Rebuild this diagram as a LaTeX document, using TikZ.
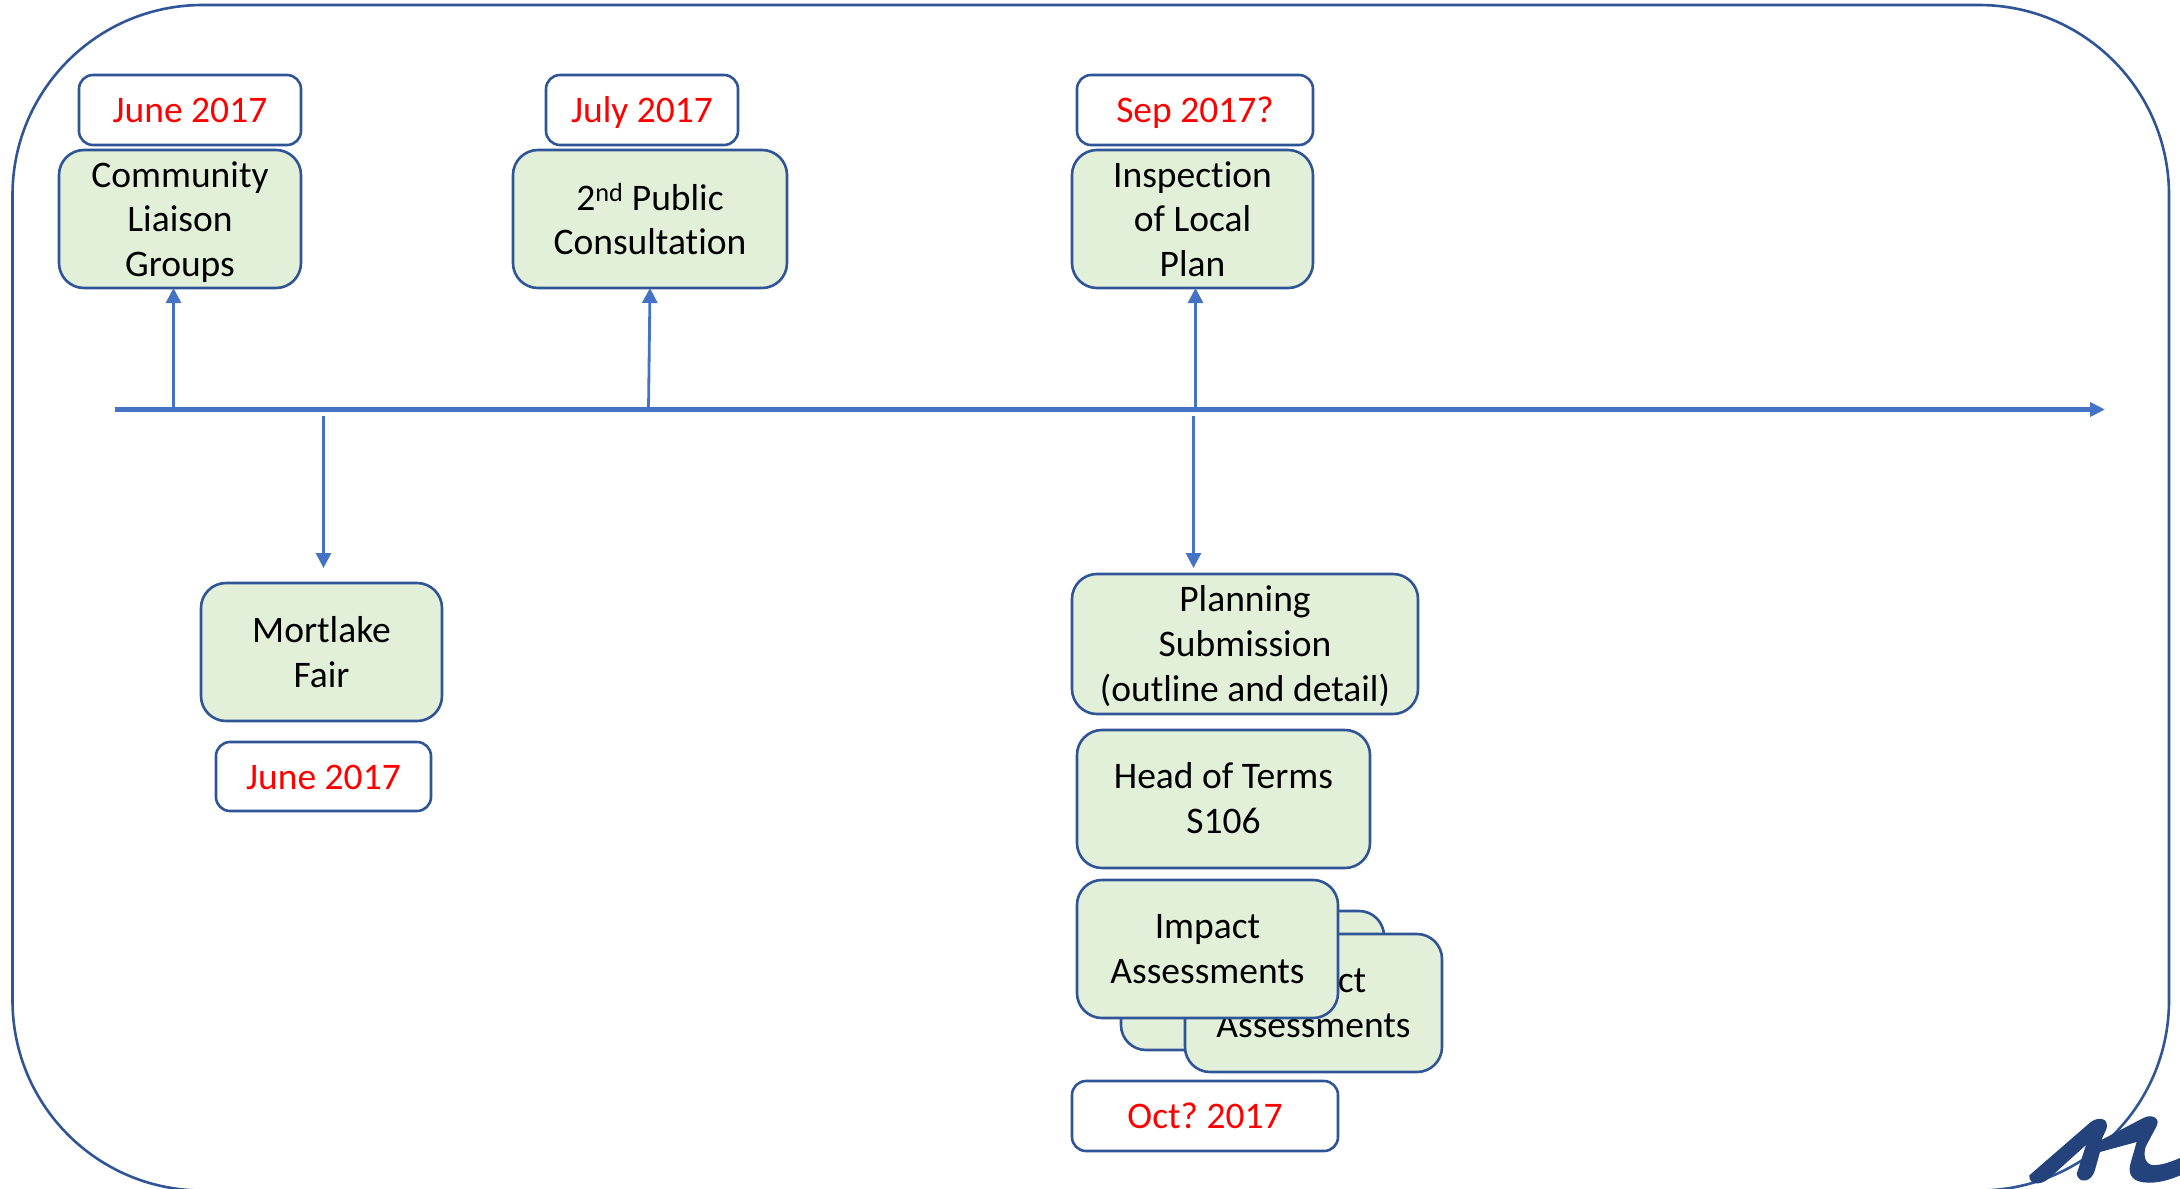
\documentclass[tikz,border=0pt]{standalone}
\usepackage{fontspec}
\setmainfont{Carlito}[Ligatures=CommonOff]
\usetikzlibrary{arrows.meta}
\definecolor{frameblue}{HTML}{2F5597}
\definecolor{axisblue}{HTML}{4472C4}
\definecolor{boxgreen}{HTML}{E2F0D9}
\definecolor{logoblue}{HTML}{24437C}
\tikzset{
  x=1pt,y=-1pt,
  basebox/.style={draw=frameblue,line width=2.6pt,inner sep=0pt,outer sep=0pt,align=center,
    font=\fontsize{37.5}{44.6}\selectfont\frenchspacing,text=black},
  greenbox/.style={basebox,fill=boxgreen,rounded corners=25pt},
  datebox/.style={basebox,fill=white,rounded corners=14pt,text=red,text height=25pt,text depth=0pt},
  axisline/.style={draw=axisblue,line width=5.5pt,-{Triangle[length=15pt,width=14pt]}},
  linkline/.style={draw=axisblue,line width=2.8pt,-{Triangle[length=15pt,width=15pt]}},
}
\newcommand{\bx}[7]{% style, name, x1, y1, x2, y2, text
  \pgfmathsetmacro{\bxw}{#5-#3}\pgfmathsetmacro{\bxh}{#6-#4}
  \pgfmathsetmacro{\bxcx}{(#3+#5)/2}\pgfmathsetmacro{\bxcy}{(#4+#6)/2}
  \node[#1,minimum width=\bxw pt,minimum height=\bxh pt] (#2) at (\bxcx,\bxcy) {#7};
}
\begin{document}
\begin{tikzpicture}
\useasboundingbox (0,0) rectangle (2180,1189);
\clip (0,0) rectangle (2180,1189);
\draw[frameblue,line width=2.6pt,rounded corners=190pt] (12.5,5) rectangle (2169,1190.5);

\coordinate (axs) at (115,409.5);
\coordinate (axe) at (2105,409.5);
\draw[axisline] (axs) -- (axe);

\bx{datebox}{d1}{79}{75}{301}{145}{June 2017}
\bx{greenbox,text depth=-1pt}{cl}{59}{150}{301}{288}{Community\\Liaison\\Groups}
\bx{datebox}{d2}{546}{75}{738}{145}{July 2017}
\bx{greenbox}{pc}{513}{150}{787}{288}{2\textsuperscript{nd} Public\\Consultation}
\bx{datebox}{d3}{1077}{75}{1313}{145}{Sep 2017?}
\bx{greenbox,text depth=-4.5pt}{ins}{1072}{150}{1313}{288}{Inspection\\of Local\\Plan}
\bx{greenbox,text depth=-2pt}{mf}{201}{583}{442}{721}{Mortlake\\Fair}
\bx{datebox}{d4}{216}{742}{431}{811}{June 2017}
\bx{greenbox,text depth=1pt}{ps}{1072}{574}{1418}{714}{Planning\\Submission\\(outline and detail)}
\bx{greenbox,text depth=1.5pt}{ht}{1077}{730}{1370}{868}{Head of Terms\\S106}
\bx{greenbox}{ib}{1121}{911}{1384}{1050}{}
\bx{greenbox,text depth=-4pt}{ic}{1185}{934}{1442}{1072}{Impact\\Assessments}
\bx{greenbox,text depth=-4pt}{ia}{1077}{880}{1338}{1018}{Impact\\Assessments}
\bx{datebox}{d5}{1072}{1081}{1338}{1151}{Oct? 2017}

\coordinate (u1) at (173.5,410);
\coordinate (u2) at (648.5,410);
\coordinate (u3) at (1195.5,410);
\coordinate (s1) at (323.5,416);
\coordinate (e1) at (323.5,568);
\coordinate (s2) at (1193.5,416);
\coordinate (e2) at (1193.5,568);
\draw[linkline] (u1) -- (u1 |- cl.south);
\draw[linkline] (u2) -- (pc.south);
\draw[linkline] (u3) -- (u3 |- ins.south);
\draw[linkline] (s1) -- (e1);
\draw[linkline] (s2) -- (e2);

% logo
\begin{scope}[shift={(1980,1050)},x=0.3333pt,y=-0.3333pt]
\fill[logoblue] (148,376) -- (330,218) .. controls (350,200) and (392,200) .. (378,240)
  -- (364,270) -- (490,204) .. controls (515,190) and (545,205) .. (528,232)
  -- (497,290) .. controls (487,325) and (500,350) .. (530,345)
  .. controls (560,342) and (585,330) .. (610,320)
  -- (610,372) .. controls (570,390) and (530,402) .. (490,397)
  .. controls (450,392) and (443,365) .. (453,335)
  -- (470,276) -- (360,306) -- (345,360)
  .. controls (335,398) and (296,402) .. (290,372)
  -- (318,285) -- (205,387) .. controls (180,407) and (146,405) .. (148,376) -- cycle;
\end{scope}
\end{tikzpicture}
\end{document}
